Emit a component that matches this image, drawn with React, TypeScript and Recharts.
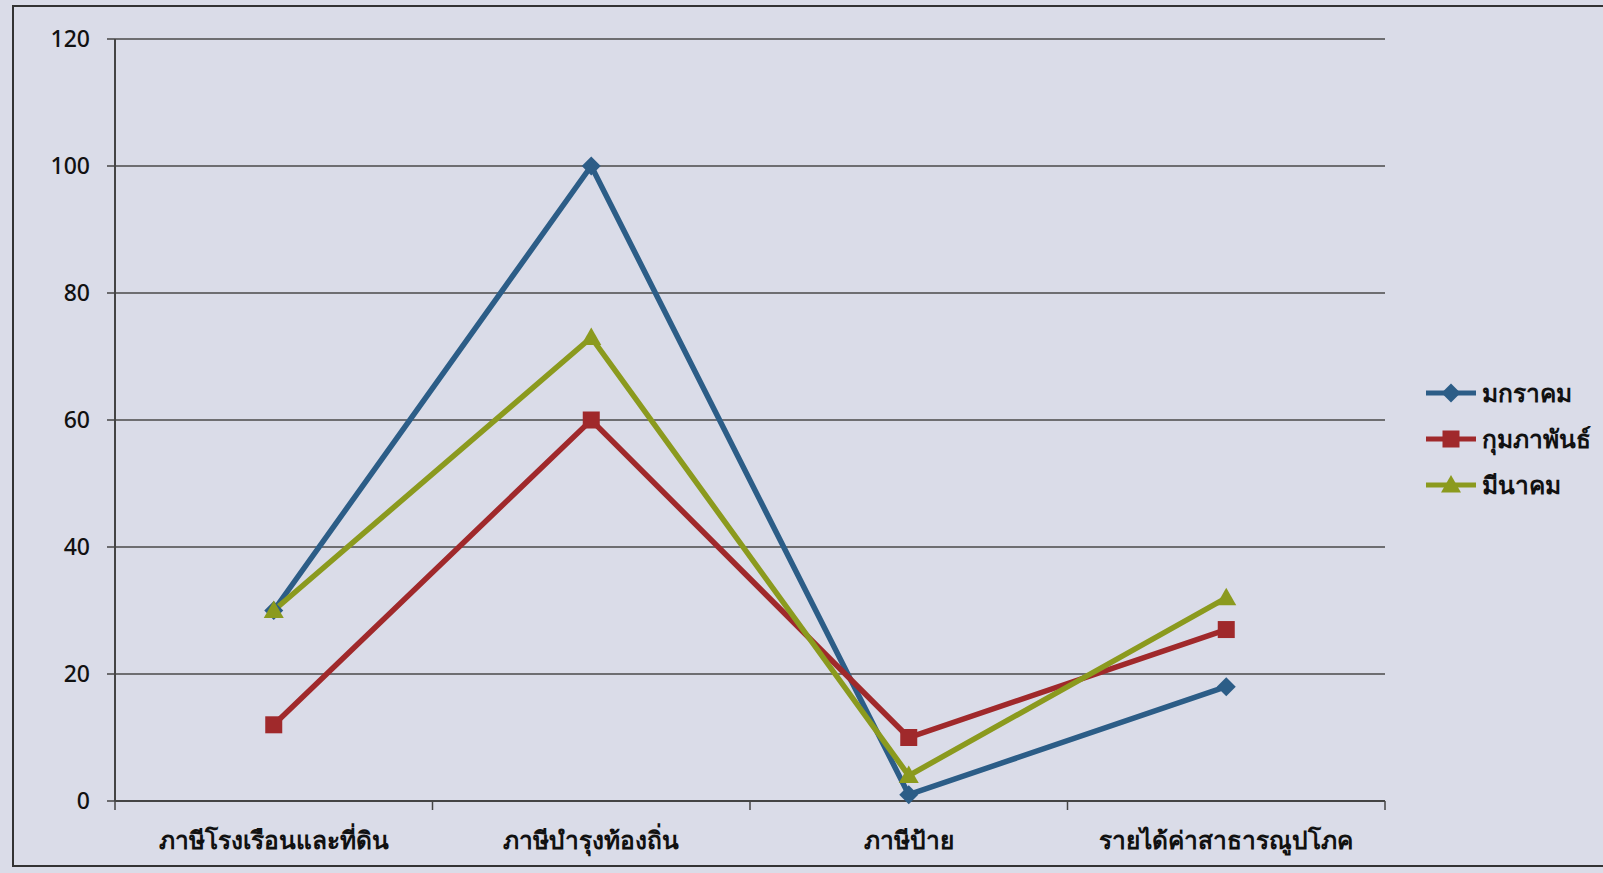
import React from 'react';
import { LineChart, Line, XAxis, YAxis, CartesianGrid, Legend } from 'recharts';

const categories = ['ภาษีโรงเรือนและที่ดิน', 'ภาษีบำรุงท้องถิ่น', 'ภาษีป้าย', 'รายได้ค่าสาธารณูปโภค'];
const january = [30, 100, 1, 18];
const february = [12, 60, 10, 27];
const march = [30, 73, 4, 32];
const yTicks = [0, 20, 40, 60, 80, 100, 120];

const seriesNames = ['มกราคม', 'กุมภาพันธ์', 'มีนาคม'];
const colors = ['#2c5d87', '#a0292b', '#8b9a1e'];

const data = categories.map((c, i) => ({
  name: c,
  jan: january[i],
  feb: february[i],
  mar: march[i],
}));

const W = 1603;
const H = 873;
const M = { top: 39, right: 218, bottom: 22, left: 55 };
const Y_W = 60;
const X_H = 50;
const plotLeft = M.left + Y_W;
const plotRight = W - M.right;
const band = (plotRight - plotLeft) / categories.length;

const FONT = "'Noto Sans', 'Open Sans', 'DejaVu Sans', sans-serif";

const Diamond = (props: any) => {
  const { cx, cy, fill } = props;
  if (cx == null || cy == null) return null;
  const r = 9.5;
  return <path d={`M${cx},${cy - r}L${cx + r},${cy}L${cx},${cy + r}L${cx - r},${cy}Z`} fill={fill} />;
};
const Square = (props: any) => {
  const { cx, cy, fill } = props;
  if (cx == null || cy == null) return null;
  const r = 8.5;
  return <rect x={cx - r} y={cy - r} width={2 * r} height={2 * r} fill={fill} />;
};
const Triangle = (props: any) => {
  const { cx, cy, fill } = props;
  if (cx == null || cy == null) return null;
  const r = 10;
  return <path d={`M${cx},${cy - r}L${cx + r},${cy + r * 0.75}L${cx - r},${cy + r * 0.75}Z`} fill={fill} />;
};

const XTick = (props: any) => {
  const { x, y, payload, index } = props;
  const h = band / 2;
  return (
    <g>
      {index === 0 && <line x1={x - h} y1={y - 8} x2={x - h} y2={y + 1} stroke="#444" strokeWidth={1.5} />}
      <line x1={x + h} y1={y - 8} x2={x + h} y2={y + 1} stroke="#444" strokeWidth={1.5} />
      <text x={x} y={y + 40} textAnchor="middle" fill="#111" fontSize={24.5} fontWeight={600} fontFamily={FONT}>
        {payload.value}
      </text>
    </g>
  );
};

const YTick = (props: any) => {
  const { x, y, payload } = props;
  return (
    <text x={x - 15} y={y + 8} textAnchor="end" fill="#111" fontSize={23} fontWeight={500} fontFamily={FONT}>
      {payload.value}
    </text>
  );
};

const Markers = [Diamond, Square, Triangle];

const LegendContent = () => (
  <div style={{ display: 'flex', flexDirection: 'column', gap: 0 }}>
    {seriesNames.map((n, i) => {
      const M2 = Markers[i];
      return (
        <div key={n} style={{ display: 'flex', alignItems: 'center', height: 46 }}>
          <svg width={54} height={24}>
            <line x1={2} y1={12} x2={52} y2={12} stroke={colors[i]} strokeWidth={5} />
            <M2 cx={27} cy={12} fill={colors[i]} />
          </svg>
          <span style={{ fontFamily: FONT, fontSize: 24.5, fontWeight: 600, color: '#111', marginLeft: 4 }}>{n}</span>
        </div>
      );
    })}
  </div>
);

export default function App() {
  return (
    <div style={{ position: 'absolute', left: 0, top: 0, width: W, height: H, background: '#dadce8', overflow: 'hidden' }}>
      <div style={{ position: 'absolute', left: 12, top: 5, width: 1700, height: 862, border: '2.5px solid #333', boxSizing: 'border-box' }} />
      <div style={{ position: 'absolute', left: 0, top: 0 }}>
        <LineChart width={W} height={H} data={data} margin={M}>
          <CartesianGrid vertical={false} stroke="#4a4a4a" strokeWidth={1.6} />
          <XAxis
            dataKey="name"
            scale="band"
            height={X_H}
            tickLine={false}
            axisLine={{ stroke: '#444', strokeWidth: 2 }}
            tick={<XTick />}
            interval={0}
          />
          <YAxis
            width={Y_W}
            domain={[0, 120]}
            ticks={yTicks}
            tickLine={{ stroke: '#444', strokeWidth: 1.5 }}
            tickSize={8}
            axisLine={{ stroke: '#444', strokeWidth: 2 }}
            tick={<YTick />}
          />
          <Legend
            layout="vertical"
            verticalAlign="middle"
            align="center"
            content={<LegendContent />}
            wrapperStyle={{ position: 'absolute', left: 1424, top: 370, width: 180 }}
          />
          <Line dataKey="jan" name={seriesNames[0]} stroke={colors[0]} strokeWidth={5.5} dot={<Diamond fill={colors[0]} />} isAnimationActive={false} />
          <Line dataKey="feb" name={seriesNames[1]} stroke={colors[1]} strokeWidth={5.5} dot={<Square fill={colors[1]} />} isAnimationActive={false} />
          <Line dataKey="mar" name={seriesNames[2]} stroke={colors[2]} strokeWidth={5.5} dot={<Triangle fill={colors[2]} />} isAnimationActive={false} />
        </LineChart>
      </div>
    </div>
  );
}
